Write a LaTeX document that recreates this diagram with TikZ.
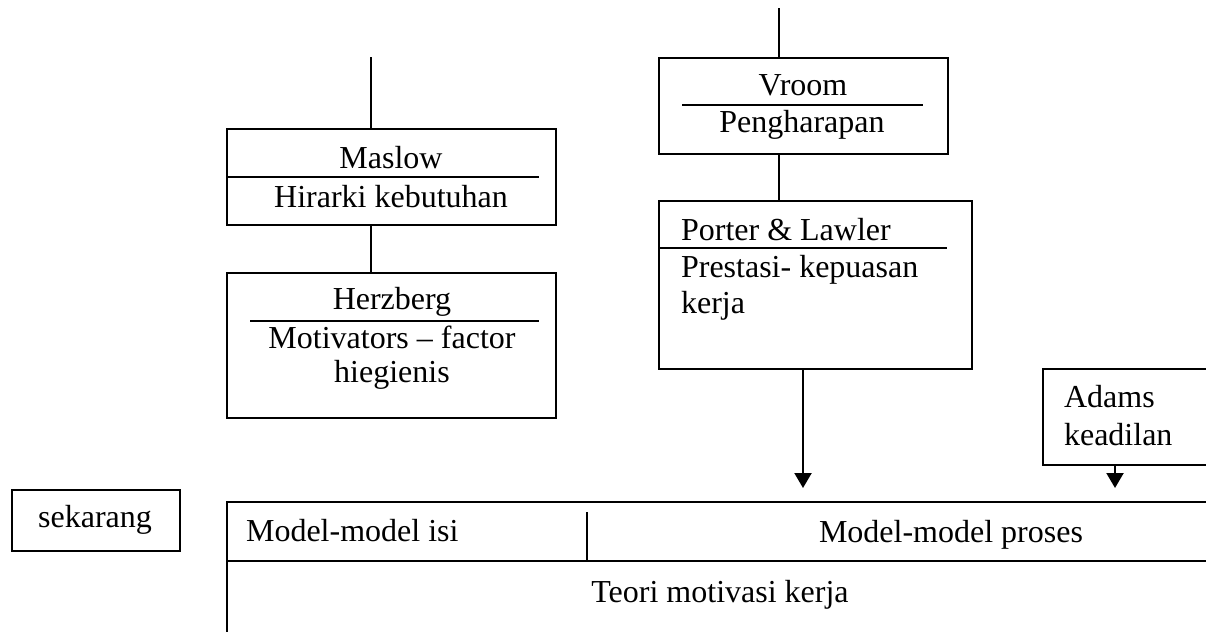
\documentclass[tikz,border=0pt]{standalone}
\usepackage{fontspec}
\setmainfont{Liberation Serif}
\usetikzlibrary{arrows.meta}
\begin{document}
\begin{tikzpicture}[x=1pt,y=-1pt, line width=2.1pt,
  txt/.style={inner sep=0pt, anchor=base, font=\fontsize{32}{38}\selectfont},
  ltxt/.style={txt, anchor=base west},
  box/.style={draw, inner sep=0pt, anchor=north west},
  sep/.style={line width=1.7pt},
  arr/.style={-{Triangle[width=17pt,length=15pt]}}]
\useasboundingbox (0,0) rectangle (1206,632);

% boxes
\node[box, minimum width=329pt, minimum height=96pt] (maslow) at (226,128) {};
\node[box, minimum width=329pt, minimum height=145pt] (herz) at (226,272) {};
\node[box, minimum width=289pt, minimum height=96pt] (vroom) at (658,57) {};
\node[box, minimum width=313pt, minimum height=168pt] (porter) at (658,200) {};
\node[box, minimum width=168pt, minimum height=61pt] (sek) at (11,489) {};

% Adams box (open to the right edge)
\coordinate (adTR) at (1206,369);
\coordinate (adTL) at (1043,369);
\coordinate (adBL) at (1043,465);
\coordinate (adBR) at (1206,465);
\draw (adTR) -- (adTL) -- (adBL) -- (adBR);

% big box (open to the right and bottom)
\coordinate (bTR) at (1206,502);
\coordinate (bTL) at (227,502);
\coordinate (bBL) at (227,632);
\coordinate (bML) at (227,561);
\coordinate (bMR) at (1206,561);
\draw (bTR) -- (bTL) -- (bBL);
\draw (bML) -- (bMR);
\coordinate (divT) at (587,512);
\draw (divT) -- (divT |- bML);

% separators
\draw[sep] (226,177) -- (539,177);
\draw[sep] (250,321) -- (539,321);
\draw[sep] (682,105) -- (923,105);
\draw[sep] (658,248) -- (947,248);

% connectors
\coordinate (mtop) at (371,57);
\draw (mtop) -- (mtop |- maslow.north);
\draw (mtop |- maslow.south) -- (mtop |- herz.north);
\coordinate (vtop) at (779,8);
\draw (vtop) -- (vtop |- vroom.north);
\draw (vtop |- vroom.south) -- (vtop |- porter.north);
\coordinate (pend) at (803,488);
\draw[arr] (pend |- porter.south) -- (pend);
\coordinate (aend) at (1115,488);
\draw[arr] (aend |- adBL) -- (aend);

% texts
\node[txt] (t1) at (391,168) {Maslow};
\node[txt] (t2) at (391,207) {Hirarki kebutuhan};
\node[txt] (t3) at (392,309) {Herzberg};
\node[txt] (t4) at (392,348) {Motivators – factor};
\node[txt] (t5) at (392,382) {hiegienis};
\node[txt] (t6) at (803,95) {Vroom};
\node[txt] (t7) at (802,132) {Pengharapan};
\node[ltxt] (t8) at (680,240) {Porter \& Lawler};
\node[ltxt] (t9) at (680,277) {Prestasi- kepuasan};
\node[ltxt] (t10) at (680,313) {kerja};
\node[ltxt] (t11) at (1063,407) {Adams};
\node[ltxt] (t12) at (1063,445) {keadilan};
\node[txt] (t13) at (95,527) {sekarang};
\node[ltxt] (t14) at (245,541) {Model-model isi};
\node[txt] (t15) at (951,542) {Model-model proses};
\node[txt] (t16) at (720,602) {Teori motivasi kerja};
\end{tikzpicture}
\end{document}
